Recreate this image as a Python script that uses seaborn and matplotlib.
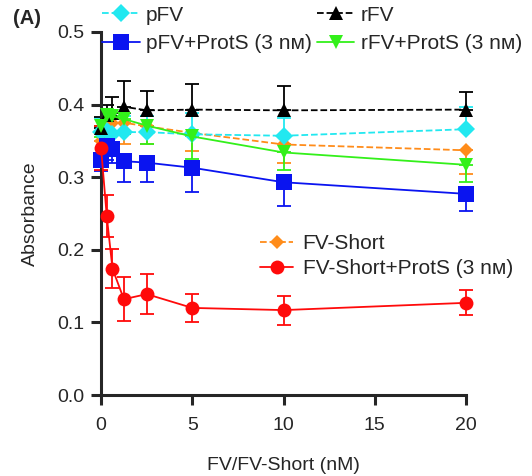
import numpy as np
import pandas as pd
import matplotlib
matplotlib.use("Agg")
import matplotlib.pyplot as plt
from matplotlib.lines import Line2D
import seaborn as sns

sns.set_style("ticks")
plt.rcParams['font.family'] = ['Liberation Sans', 'DejaVu Sans']

conc = [0, 0.3125, 0.625, 1.25, 2.5, 5, 10, 20]

pFV = [0.362, 0.363, 0.360, 0.362, 0.362, 0.359, 0.357, 0.366]
pFV_err = [0.02, 0.02, 0.02, 0.022, 0.022, 0.03, 0.024, 0.031]
rFV = [0.368, 0.385, 0.389, 0.397, 0.392, 0.393, 0.392, 0.393]
rFV_err = [0.015, 0.015, 0.022, 0.035, 0.027, 0.035, 0.033, 0.024]
pFV_PS = [0.324, 0.343, 0.339, 0.322, 0.320, 0.313, 0.293, 0.277]
pFV_PS_err = [0.015, 0.02, 0.02, 0.028, 0.026, 0.033, 0.033, 0.023]
rFV_PS = [0.370, 0.385, 0.384, 0.380, 0.371, 0.356, 0.334, 0.317]
rFV_PS_err = [0.015, 0.02, 0.02, 0.02, 0.025, 0.031, 0.024, 0.024]
FVS = [0.350, 0.370, 0.374, 0.375, 0.370, 0.361, 0.345, 0.337]
FVS_err = [0.02, 0.025, 0.025, 0.029, 0.025, 0.025, 0.025, 0.033]
FVS_PS = [0.340, 0.246, 0.174, 0.132, 0.139, 0.120, 0.117, 0.127]
FVS_PS_err = [0.03, 0.029, 0.027, 0.03, 0.028, 0.019, 0.02, 0.017]

labels = ["pFV", "rFV", "pFV+ProtS (3 nᴍ)", "rFV+ProtS (3 nᴍ)",
          "FV-Short", "FV-Short+ProtS (3 nᴍ)"]

series = [
    # label, values, err, color, marker, ms, linestyle, err direction
    (labels[4], FVS, FVS_err, "#FF8C1A", "D", 7, "--", "down"),
    (labels[0], pFV, pFV_err, "#22E8F0", "D", 9, "--", "up"),
    (labels[1], rFV, rFV_err, "black", "^", 9.5, "--", "up"),
    (labels[3], rFV_PS, rFV_PS_err, "#33F01A", "v", 10, "-", "down"),
    (labels[2], pFV_PS, pFV_PS_err, "#0A14F0", "s", 12, "-", "down"),
    (labels[5], FVS_PS, FVS_PS_err, "#FF0A0A", "o", 10, "-", "both"),
]

fig = plt.figure(figsize=(5.32, 4.76), dpi=100)
ax = fig.add_axes([0.19, 0.17, 0.686, 0.763])

handles = {}
for lab, vals, err, col, mk, ms, ls, d in series:
    df = pd.DataFrame({"x": conc, "y": vals})
    sns.lineplot(data=df, x="x", y="y", ax=ax, color=col, linestyle=ls,
                 linewidth=1.3, marker=mk, markersize=ms, markeredgewidth=0,
                 clip_on=False, zorder=3)
    e = np.array(err)
    z = np.zeros_like(e)
    if d == "up":
        yerr = [z, e]
    elif d == "down":
        yerr = [e, z]
    else:
        yerr = [e, e]
    ax.errorbar(conc, vals, yerr=yerr, fmt="none", ecolor=col, elinewidth=1.3,
                capsize=4.7, capthick=1.3, clip_on=False, zorder=2)
    handles[lab] = Line2D([], [], color=col, linestyle=ls, linewidth=1.3,
                          marker=mk, markersize=ms, markeredgewidth=0)

ax.set_xlim(0, 20)
ax.set_ylim(0, 0.5)
ax.set_xticks([0, 5, 10, 15, 20])
ax.set_yticks([0.0, 0.1, 0.2, 0.3, 0.4, 0.5])
ax.set_yticklabels(["0.0", "0.1", "0.2", "0.3", "0.4", "0.5"])
for s in ["top", "right"]:
    ax.spines[s].set_visible(False)
for s in ["left", "bottom"]:
    ax.spines[s].set_linewidth(2.2)
ax.tick_params(axis="both", direction="out", length=7, width=2.2, labelsize=14)
ax.tick_params(axis="x", pad=9)
ax.tick_params(axis="y", pad=5)
ax.set_xlabel("FV/FV-Short (nM)", fontsize=14, labelpad=16)
ax.set_ylabel("Absorbance", fontsize=14, labelpad=13)

leg1 = fig.legend([handles[labels[0]], handles[labels[2]], handles[labels[1]], handles[labels[3]]],
                  [labels[0], labels[2], labels[1], labels[3]],
                  ncol=2, loc="upper left", bbox_to_anchor=(0.192, 0.988),
                  frameon=False, fontsize=15, handlelength=1.8, handletextpad=0.3,
                  columnspacing=0.25, labelspacing=0.45, borderaxespad=0, borderpad=0)
leg2 = ax.legend([handles[labels[4]], handles[labels[5]]], [labels[4], labels[5]],
                 loc="upper left", bbox_to_anchor=(0.435, 0.443),
                 frameon=False, fontsize=15, handlelength=1.6, handletextpad=0.45,
                 labelspacing=0.3, borderaxespad=0, borderpad=0)

fig.text(0.025, 0.962, "(A)", fontsize=14.5, fontweight="bold", va="center")

fig.savefig("out.png", dpi=100)
